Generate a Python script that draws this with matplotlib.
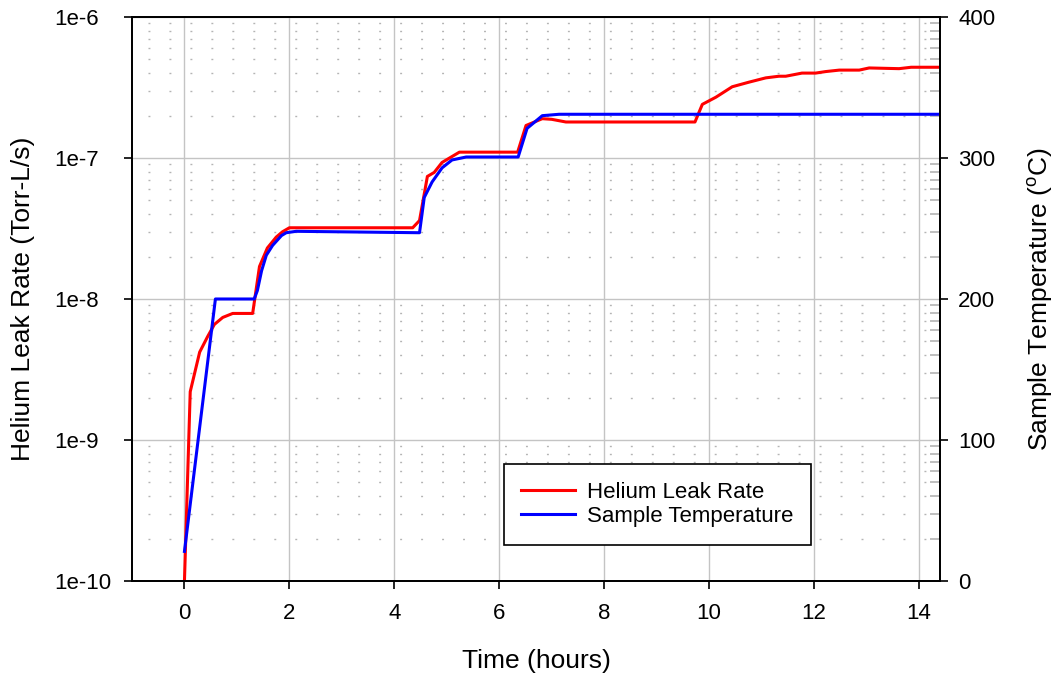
import matplotlib
matplotlib.use("Agg")
import matplotlib.pyplot as plt

plt.rcParams['font.family'] = ['Liberation Sans', 'DejaVu Sans']
plt.rcParams['mathtext.fontset'] = 'custom'
plt.rcParams['mathtext.rm'] = 'Liberation Sans'

# helium leak rate (Torr-L/s) vs time (hours)
hours_leak = [0.0, 0.11, 0.29, 0.44, 0.57, 0.73, 0.92, 1.30, 1.43, 1.58, 1.75,
              1.87, 2.00, 4.35, 4.48, 4.63, 4.76, 4.91, 5.24, 6.35, 6.51, 6.67,
              6.82, 7.00, 7.27, 9.73, 9.87, 10.13, 10.44, 10.76, 11.08, 11.33,
              11.46, 11.77, 12.03, 12.22, 12.48, 12.86, 13.05, 13.62, 13.85, 14.4]
leak_rate = [1.0e-10, 2.2e-9, 4.2e-9, 5.4e-9, 6.6e-9, 7.4e-9, 7.9e-9, 7.9e-9,
             1.7e-8, 2.3e-8, 2.75e-8, 3.0e-8, 3.2e-8, 3.2e-8, 3.6e-8, 7.4e-8,
             7.9e-8, 9.3e-8, 1.1e-7, 1.1e-7, 1.7e-7, 1.8e-7, 1.9e-7, 1.88e-7,
             1.8e-7, 1.8e-7, 2.4e-7, 2.7e-7, 3.2e-7, 3.45e-7, 3.7e-7, 3.8e-7,
             3.8e-7, 4.0e-7, 4.0e-7, 4.1e-7, 4.2e-7, 4.2e-7, 4.35e-7, 4.3e-7,
             4.4e-7, 4.4e-7]

# sample temperature (C) vs time (hours)
hours_temp = [0.0, 0.59, 1.33, 1.39, 1.47, 1.56, 1.68, 1.85, 1.94, 2.13, 4.48,
              4.57, 4.72, 4.91, 5.10, 5.37, 6.36, 6.53, 6.82, 7.14, 14.4]
temperature = [21, 200, 200, 206, 220, 231, 238, 245, 247, 248, 247, 272, 283,
               293, 298.6, 300.7, 300.7, 321, 330, 331, 331]

leak_ticks = [1e-10, 1e-9, 1e-8, 1e-7, 1e-6]
leak_labels = ['1e-10', '1e-9', '1e-8', '1e-7', '1e-6']
temp_ticks = [0, 100, 200, 300, 400]
time_ticks = [0, 2, 4, 6, 8, 10, 12, 14]

fig = plt.figure(figsize=(10.55, 6.79), dpi=100)
ax = fig.add_axes([0.1251, 0.1443, 0.7659, 0.8307])
ax2 = ax.twinx()

ax.plot(hours_leak, leak_rate, color='#ff0000', lw=2.2, label='Helium Leak Rate')
ax2.plot(hours_temp, temperature, color='#0000ff', lw=2.2, label='Sample Temperature')

ax.set_yscale('log')
ax.set_ylim(1e-10, 1e-6)
ax.set_xlim(-1, 14.4)
ax2.set_ylim(0, 400)

ax.set_xticks(time_ticks)
ax.set_yticks(leak_ticks)
ax.set_yticklabels(leak_labels)
ax2.set_yticks(temp_ticks)

ax.grid(True, which='major', color='#c4c4c4', lw=1.0)
ax.grid(True, which='minor', axis='y', color='#b4b4b4', lw=1.0,
        linestyle=(3.6, (1.4, 13.7)))
ax.set_axisbelow(True)

ax.tick_params(axis='both', which='major', direction='out', length=6, width=1.2,
               labelsize=16)
ax.tick_params(axis='x', pad=10)
ax.tick_params(axis='y', which='major', pad=50)
for lbl in ax.get_yticklabels():
    lbl.set_horizontalalignment('left')
ax.tick_params(axis='y', which='minor', left=False, right=True, direction='in',
               length=7, width=1.2, color='#b4b4b4')
ax2.tick_params(axis='y', direction='out', length=6, width=1.2, labelsize=16, pad=7)

for a in (ax, ax2):
    for s in a.spines.values():
        s.set_linewidth(1.3)
        s.set_color('black')

ax.set_xlabel('Time (hours)', fontsize=19, labelpad=18)
ax.set_ylabel('Helium Leak Rate (Torr-L/s)', fontsize=19, labelpad=14)
ax2.set_ylabel('Sample Temperature ($\\mathregular{^{o}}$C)', fontsize=19, labelpad=22)

h1, l1 = ax.get_legend_handles_labels()
h2, l2 = ax2.get_legend_handles_labels()
leg = ax2.legend(h1 + h2, l1 + l2, loc='lower left', bbox_to_anchor=(0.46, 0.064),
                 fontsize=16, frameon=True, fancybox=False, edgecolor='black',
                 framealpha=1.0, handlelength=2.4, handletextpad=0.55,
                 labelspacing=0.15, borderpad=0.8, borderaxespad=0)
leg.get_frame().set_linewidth(1.2)

fig.savefig('out.png', dpi=100)
